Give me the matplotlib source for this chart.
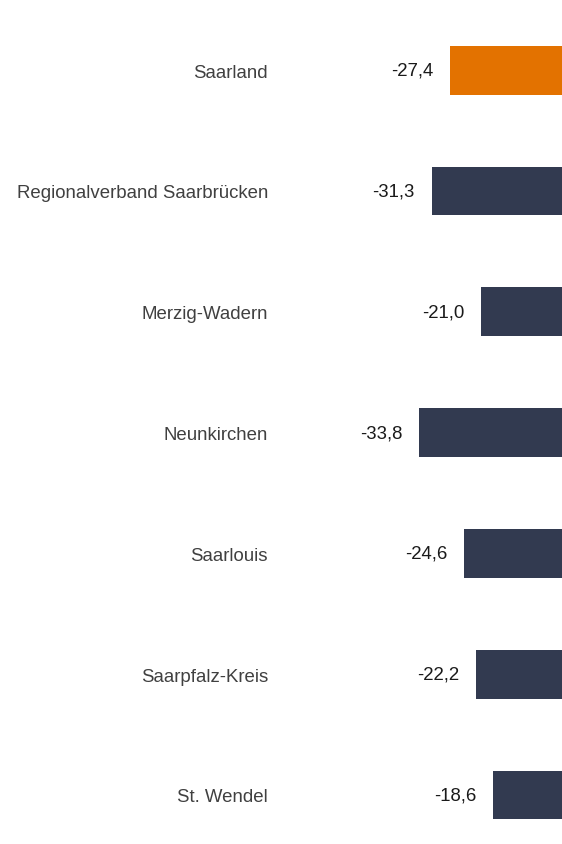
import matplotlib
matplotlib.use("Agg")
import matplotlib.pyplot as plt

# Kreise im Saarland und Veränderung in Prozent
regions = ["Saarland", "Regionalverband Saarbrücken", "Merzig-Wadern",
           "Neunkirchen", "Saarlouis", "Saarpfalz-Kreis", "St. Wendel"]
values = [-27.4, -31.3, -21.0, -33.8, -24.6, -22.2, -18.6]
colors = ["#E37200"] + ["#323A50"] * 6

plt.rcParams["font.family"] = ["Liberation Sans", "DejaVu Sans"]

W, H, DPI = 562, 845, 100
fig = plt.figure(figsize=(W / DPI, H / DPI), dpi=DPI)
fig.patch.set_facecolor("white")

# axes span from x=300px to the right edge; zero line lies just outside the figure
ax_left_px = 300
ax = fig.add_axes([ax_left_px / W, 0, 1 - ax_left_px / W, 1])
px_per_unit = 4.84
zero_px = 583
ax.set_xlim(-(zero_px - ax_left_px) / px_per_unit, -(zero_px - W) / px_per_unit)

first_px, step_px = 71.2, 120.8
ax.set_ylim((H - first_px) / step_px, -first_px / step_px)

ypos = list(range(len(regions)))
ax.barh(ypos, values, height=0.405, color=colors, linewidth=0)

ax.set_yticks(ypos)
ax.set_yticklabels(regions, fontsize=13.4, color="#404040")
ax.tick_params(axis="y", length=0, pad=23)
ax.set_xticks([])
for s in ax.spines.values():
    s.set_visible(False)

for y, v in zip(ypos, values):
    ax.annotate(f"{v:.1f}".replace(".", ","), xy=(v, y), xytext=(-12, 0),
                textcoords="offset points", ha="right", va="center",
                fontsize=13.4, color="#1a1a1a")

fig.savefig("out.png", dpi=DPI, facecolor="white")
